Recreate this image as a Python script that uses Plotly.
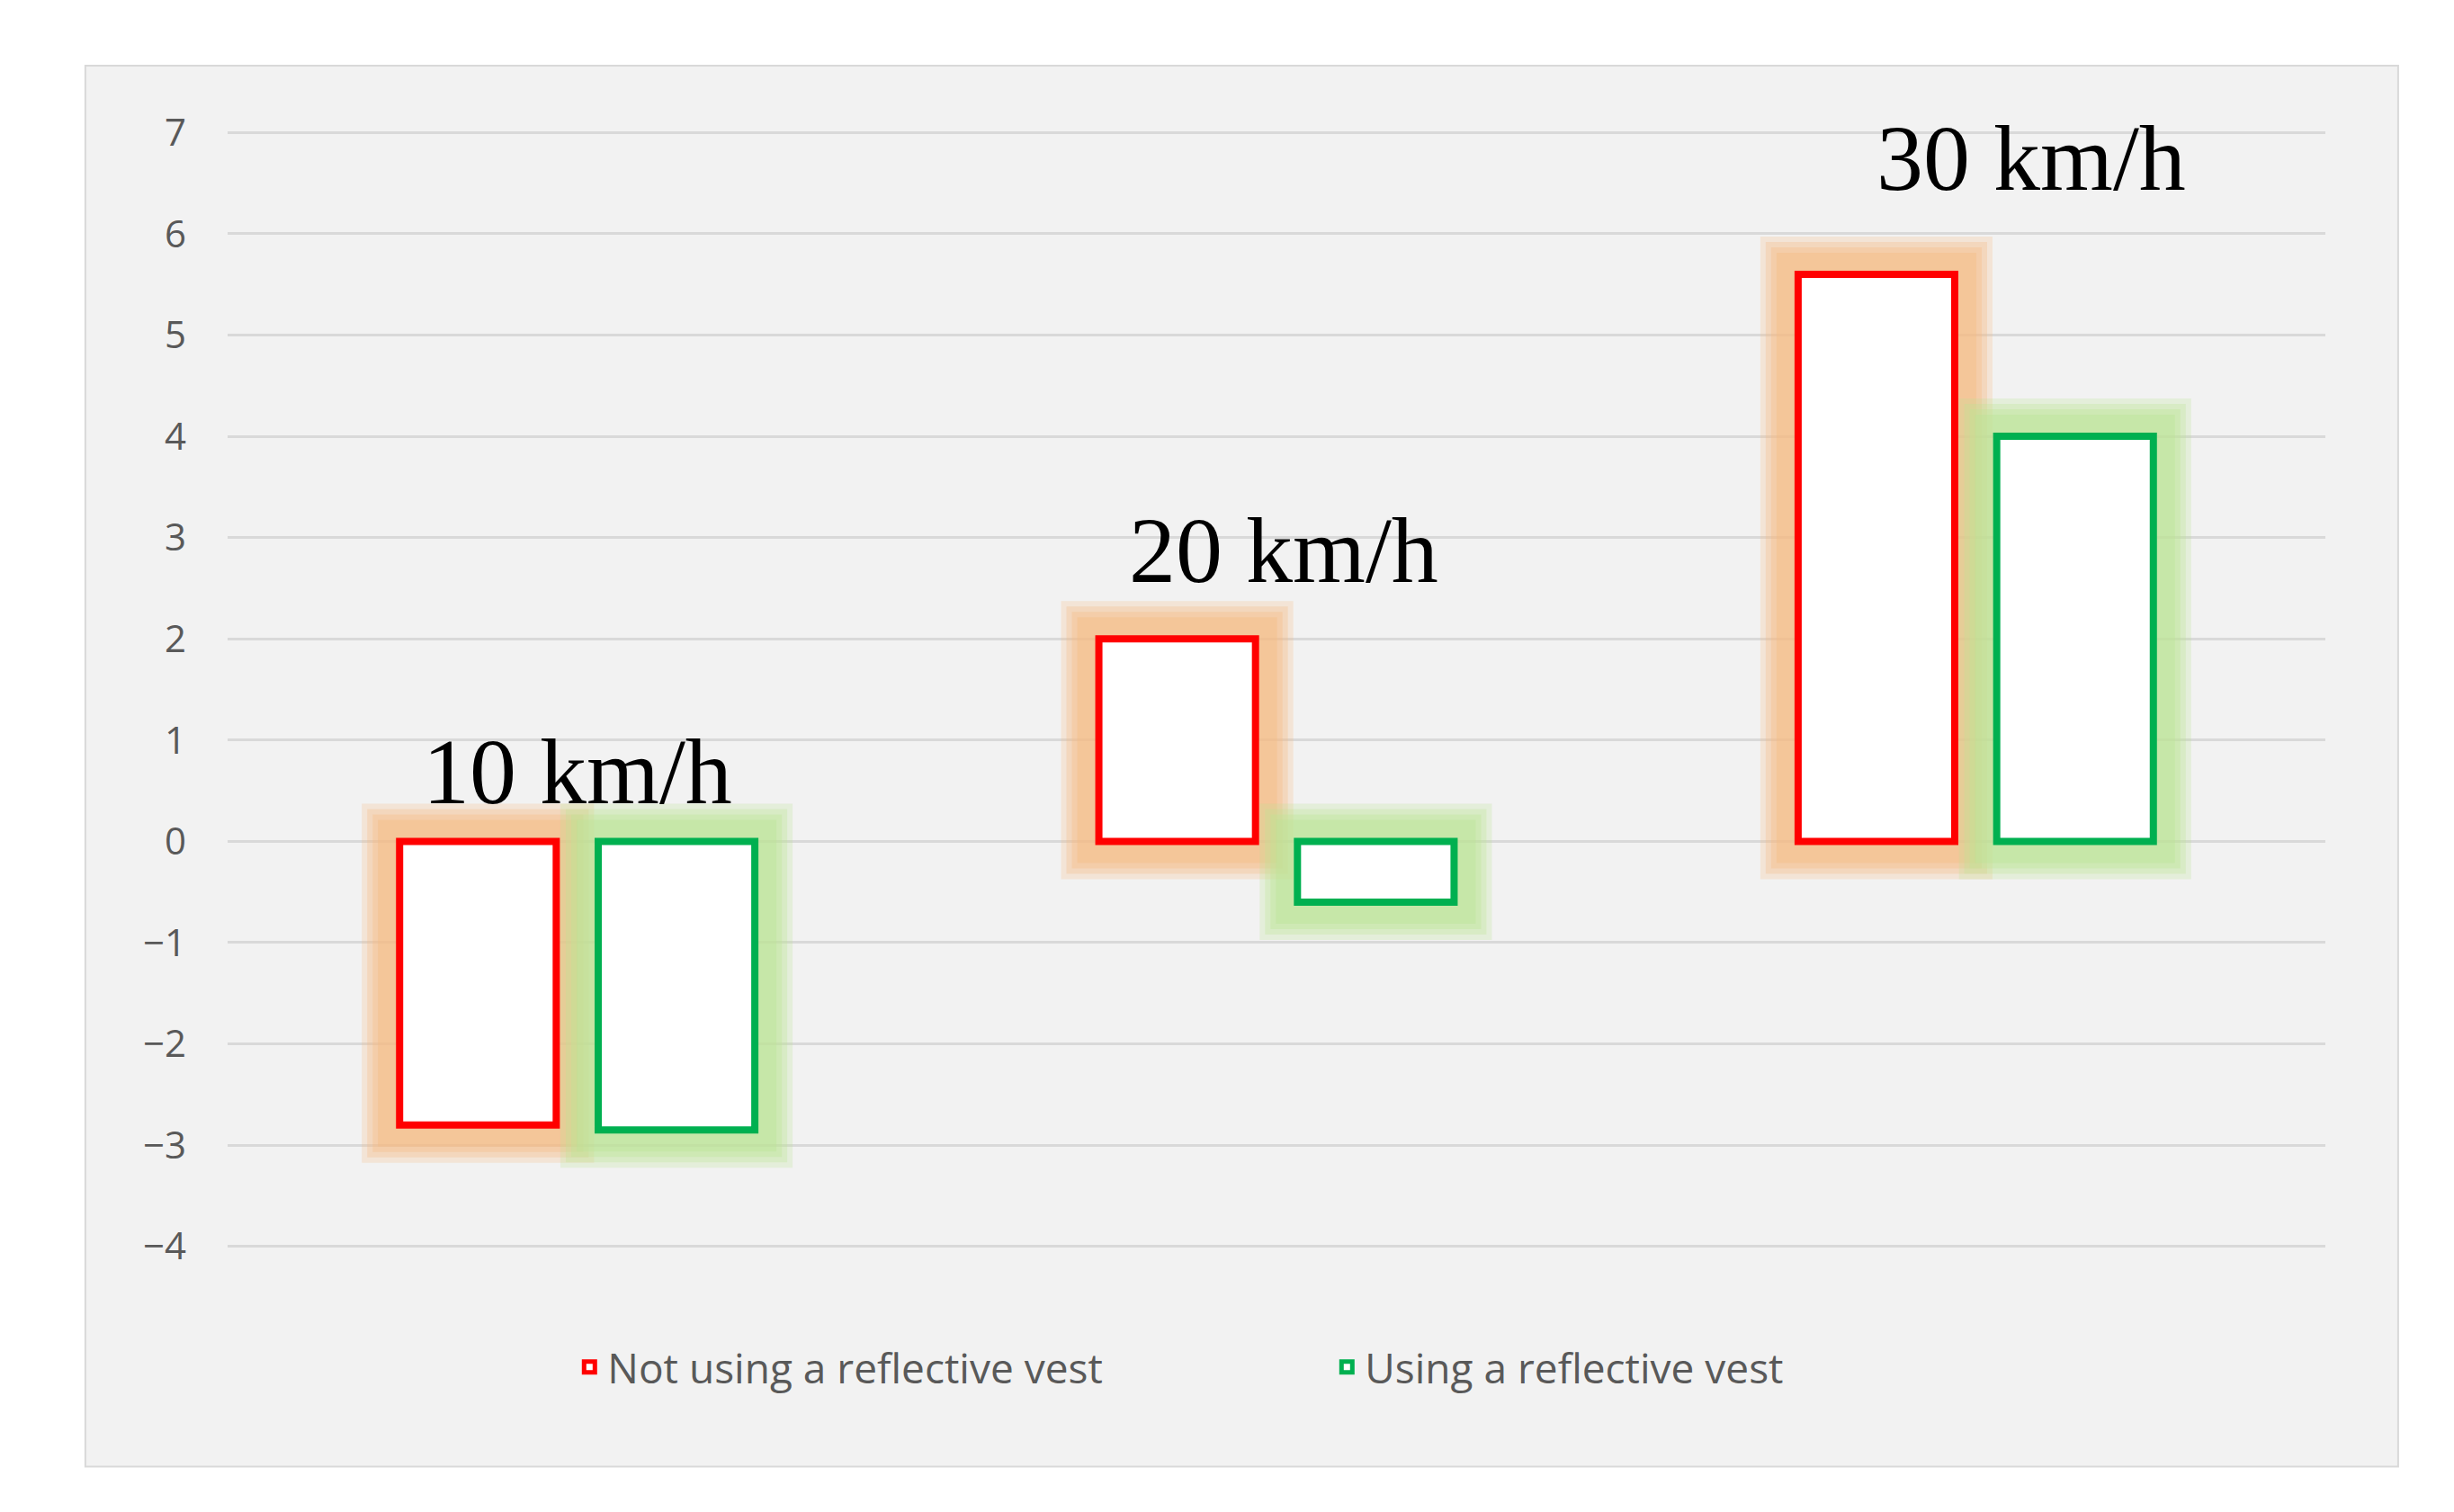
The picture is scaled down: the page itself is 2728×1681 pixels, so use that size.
import plotly.graph_objs as go

# data
speeds = ['10 km/h', '20 km/h', '30 km/h']
no_vest = [-2.8, 2.0, 5.6]
with_vest = [-2.85, -0.6, 4.0]
ytick_vals = [7, 6, 5, 4, 3, 2, 1, 0, -1, -2, -3, -4]

# label placement (data y of label bottom, pixel x shift)
label_y = [0.16, 2.35, 6.22]
label_dx = [0, 8, 62]

BAR_W = 0.224
RED_OFF = -0.254
GREEN_OFF = 0.03

fig = go.Figure()

# soft glow behind bars, built from a few wide translucent outlines
glows = [(84, 0.25), (72, 0.3), (60, 0.35), (48, 0.4)]
for vals, off, rgb in [(no_vest, RED_OFF, '246,187,131'), (with_vest, GREEN_OFF, '188,228,149')]:
    for w, a in glows:
        col = 'rgba(%s,%s)' % (rgb, a)
        fig.add_trace(go.Bar(x=speeds, y=vals, width=BAR_W, offset=off,
                             marker=dict(color=col, line=dict(color=col, width=w)),
                             showlegend=False, hoverinfo='skip'))

fig.add_trace(go.Bar(x=speeds, y=no_vest, width=BAR_W, offset=RED_OFF,
                     name='Not using a reflective vest',
                     marker=dict(color='white', line=dict(color='#FF0000', width=8))))
fig.add_trace(go.Bar(x=speeds, y=with_vest, width=BAR_W, offset=GREEN_OFF,
                     name='Using a reflective vest',
                     marker=dict(color='white', line=dict(color='#00B050', width=8))))

for s, ly, dx in zip(speeds, label_y, label_dx):
    fig.add_annotation(x=s, y=ly, text=s, showarrow=False, xshift=dx,
                       yanchor='bottom', xanchor='center',
                       font=dict(family='Liberation Serif', size=104, color='black'))

# gray chart panel
fig.add_shape(type='rect', xref='paper', yref='paper',
              x0=-0.0678, x1=1.0347, y0=-0.195, y1=1.058,
              fillcolor='#F2F2F2', line=dict(color='#D9D9D9', width=2), layer='below')

fig.update_layout(
    width=2728, height=1681,
    margin=dict(l=245, r=151, t=137, b=301),
    paper_bgcolor='white',
    plot_bgcolor='rgba(0,0,0,0)',
    barmode='overlay',
    font=dict(family='Open Sans', color='#595959'),
    legend=dict(orientation='h', x=0.525, xanchor='center', y=-0.106, yanchor='middle',
                font=dict(size=46, color='#595959'), bgcolor='rgba(0,0,0,0)',
                entrywidth=797),
    xaxis=dict(showticklabels=False, showgrid=False, zeroline=False, showline=False),
    yaxis=dict(range=[-4.02, 7.02], tickvals=ytick_vals, showgrid=True, gridcolor='#D9D9D9',
               gridwidth=3, zeroline=False, showline=False,
               tickfont=dict(size=42, color='#595959'), ticklabelstandoff=45),
)

fig.write_html("out.html")
